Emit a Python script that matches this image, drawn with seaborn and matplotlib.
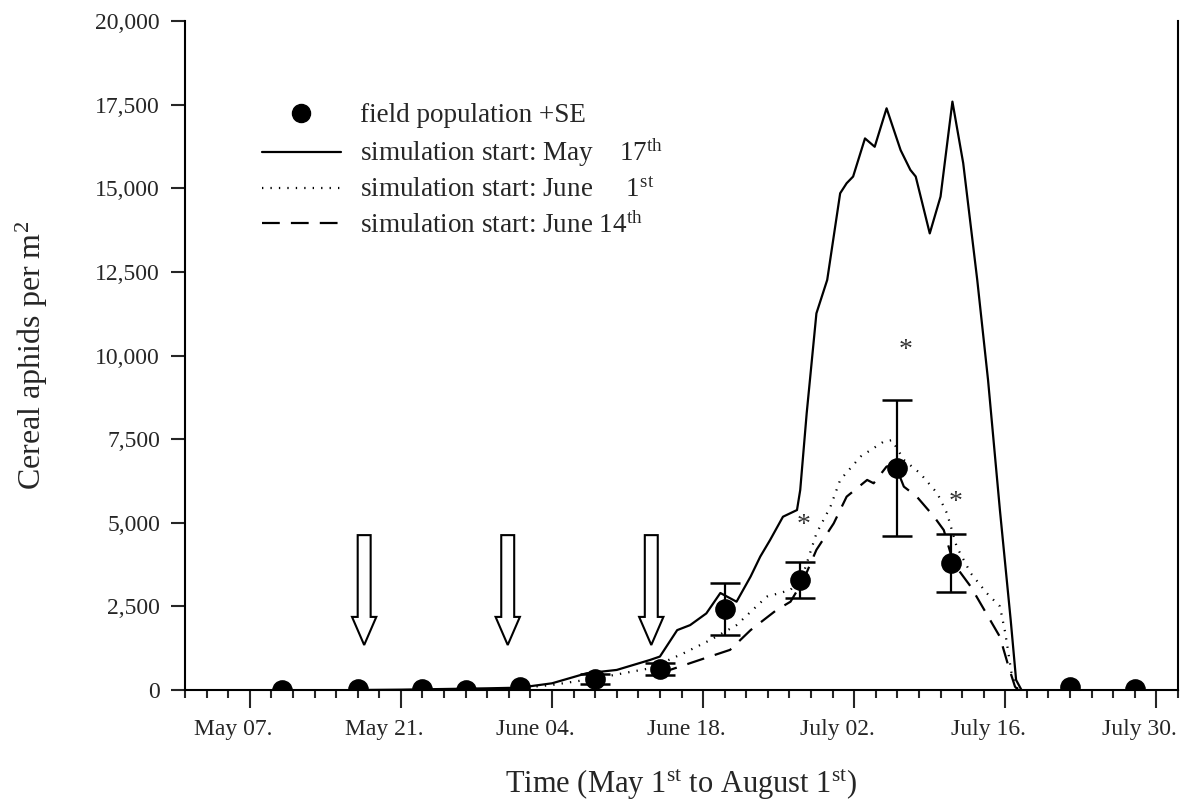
import numpy as np
import pandas as pd
import matplotlib
matplotlib.use("Agg")
import matplotlib.pyplot as plt
import seaborn as sns
from matplotlib.patches import FancyArrow
from matplotlib.lines import Line2D
from matplotlib.ticker import MultipleLocator, FuncFormatter
import matplotlib.transforms as mtransforms

# ---------------- data (day 0 = May 1st) ----------------
field_days = [9, 16, 22, 26, 31, 38, 44, 50, 57, 66, 71, 82, 88]
field_vals = [0, 30, 30, 10, 90, 320, 640, 2420, 3290, 6640, 3785, 80, 20]
field_se = [0, 0, 0, 0, 0, 150, 180, 780, 525, 2030, 870, 0, 0]

may17_days = [16, 20, 24, 28, 31, 34, 37.2, 40.0, 43.1, 44.0, 45.6, 46.8, 48.3, 49.6,
              51.1, 52.4, 53.3, 54.2, 55.4, 56.7, 57.0, 57.6, 57.9, 58.5, 59.5, 60.7,
              61.3, 61.9, 63.0, 63.9, 65.0, 66.3, 67.2, 67.7, 69.0, 70.0, 71.1, 72.1,
              73.4, 74.4, 75.5, 76.5, 77.0, 77.5]
may17_vals = [0, 10, 30, 50, 70, 200, 500, 600, 900, 1000, 1790, 1940, 2290, 2900,
              2640, 3390, 3990, 4480, 5180, 5380, 5980, 8280, 9270, 11260, 12260, 14850,
              15150, 15350, 16490, 16240, 17390, 16140, 15550, 15350, 13650, 14750, 17590, 15750,
              12260, 9270, 5380, 2090, 300, 0]

june1_days = [31, 34, 38.1, 43.1, 46.2, 48.7, 51.1, 53.9, 56.1, 57.3, 58.5, 59.8, 60.7,
              62.6, 64.7, 65.5, 66.6, 68.1, 69.7, 70.6, 71.5, 72.8, 74.3, 75.5, 76.0,
              76.6, 77.1, 77.4]
june1_vals = [60, 150, 350, 650, 1100, 1500, 1940, 2790, 2990, 3490, 4680, 5480, 6280,
              6980, 7420, 7470, 6880, 6480, 5880, 5280, 4280, 3490, 2890, 2500, 1700,
              450, 60, 0]

june14_days = [44.0, 47.7, 50.5, 52.4, 54.8, 56.1, 57.3, 58.5, 60.1, 61.3, 63.2, 63.8,
               65.0, 65.8, 66.6, 67.8, 69.4, 70.3, 71.2, 72.8, 74.6, 75.5, 76.3, 76.9, 77.2]
june14_vals = [500, 900, 1200, 1790, 2390, 2640, 3290, 4190, 4980, 5780, 6280, 6180,
               6680, 6730, 6080, 5780, 5180, 4780, 3790, 3090, 2090, 1590, 700, 100, 0]

arrow_days = [16.6, 29.9, 43.2]
arrow_top = 4630
arrow_tip = 1345

star_days = [57.3, 66.8, 71.4]
star_vals = [4930, 10160, 5620]

xtick_days = [6, 20, 34, 48, 62, 76, 90]
xtick_labels = ["May 07.", "May 21.", "June 04.", "June 18.", "July 02.", "July 16.", "July 30."]

legend_labels = ["field population +SE",
                 r"simulation start: May    17$^{\mathrm{th}}$",
                 r"simulation start: June     1$^{\mathrm{st}}$",
                 r"simulation start: June 14$^{\mathrm{th}}$"]

# ---------------- style ----------------
sns.set_style("ticks")
plt.rcParams['font.family'] = ['Liberation Serif', 'DejaVu Serif']
plt.rcParams['mathtext.fontset'] = 'custom'
plt.rcParams['mathtext.rm'] = 'Liberation Serif'
plt.rcParams['mathtext.it'] = 'Liberation Serif:italic'
plt.rcParams['mathtext.bf'] = 'Liberation Serif:bold'

fig = plt.figure(figsize=(12.02, 8.07), dpi=100)
ax = fig.add_axes([185/1202, 1-690/807, (1178-185)/1202, (690-21)/807])

df1 = pd.DataFrame({"day": may17_days, "val": may17_vals})
df2 = pd.DataFrame({"day": june1_days, "val": june1_vals})
df3 = pd.DataFrame({"day": june14_days, "val": june14_vals})

sns.lineplot(data=df1, x="day", y="val", ax=ax, color="black", lw=1.6, estimator=None, sort=False)
sns.lineplot(data=df2, x="day", y="val", ax=ax, color="black", lw=1.6, estimator=None, sort=False,
             linestyle=(0, (0.6, 3.2)))
sns.lineplot(data=df3, x="day", y="val", ax=ax, color="black", lw=1.6, estimator=None, sort=False,
             linestyle=(0, (8, 5)))

fd = np.array(field_days, float)
fv = np.array(field_vals, float)
fs = np.array(field_se, float)
m = fs > 0
ax.errorbar(fd[m], fv[m], yerr=fs[m], fmt="none", ecolor="black", elinewidth=1.6,
            capsize=11, capthick=1.8, zorder=4)
sns.scatterplot(x=fd, y=fv, ax=ax, color="black", s=190, edgecolor="black", zorder=5)

# arrows
for d in arrow_days:
    ax.add_patch(FancyArrow(d, arrow_top, 0, -(arrow_top - arrow_tip), width=1.2,
                            head_width=2.25, head_length=840, length_includes_head=True,
                            fc="white", ec="black", lw=1.5, zorder=6))

for d, v in zip(star_days, star_vals):
    ax.text(d, v, "*", ha="center", va="center", fontsize=20, color="#333333")

# axes
ax.set_xlim(0, 92)
ax.set_ylim(0, 20000)
ax.set_xticks(xtick_days)
ax.set_xticklabels(xtick_labels)
ax.xaxis.set_minor_locator(MultipleLocator(2))
ax.yaxis.set_major_locator(MultipleLocator(2500))
ax.yaxis.set_major_formatter(FuncFormatter(lambda v, p: f"{int(v):,}"))
ax.tick_params(axis="x", which="major", direction="out", length=13, width=1.5, labelsize=17, pad=8)
ax.tick_params(axis="x", which="minor", direction="out", length=6, width=1.5)
ax.tick_params(axis="y", which="major", direction="out", length=10, width=1.5, labelsize=17, pad=8)
for lab in ax.get_xticklabels():
    lab.set_transform(lab.get_transform() + mtransforms.ScaledTranslation(-17/100, 0, fig.dpi_scale_trans))

for s in ["left", "bottom", "right"]:
    ax.spines[s].set_linewidth(1.5)
    ax.spines[s].set_color("black")
ax.spines["top"].set_visible(False)

ax.set_xlabel(r"Time (May 1$^{\mathrm{st}}$ to August 1$^{\mathrm{st}}$)", fontsize=22)
ax.xaxis.set_label_coords(0.5, -(768 - 690) / 669)
ax.set_ylabel(r"Cereal aphids per m$^{\mathrm{2}}$", fontsize=23)
ax.yaxis.set_label_coords(-(185 - 50) / 993, 0.5)

handles = [Line2D([], [], color="black", marker="o", markersize=13, linestyle="none"),
           Line2D([], [], color="black", lw=1.6),
           Line2D([], [], color="black", lw=1.6, linestyle=(0, (0.6, 3.2))),
           Line2D([], [], color="black", lw=1.6, linestyle=(0, (8, 5)))]
ax.legend(handles, legend_labels, loc="upper left",
          bbox_to_anchor=((262 - 185) / 993, (690 - 103) / 669),
          frameon=False, fontsize=19.5, handlelength=2.9, handletextpad=0.72,
          labelspacing=0.33, borderaxespad=0, borderpad=0)

fig.savefig("out.png", dpi=100)
